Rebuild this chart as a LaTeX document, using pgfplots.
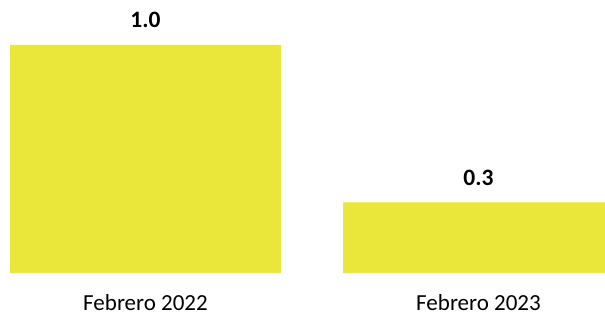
\documentclass[border=0pt]{standalone}
\usepackage{pgfplots}
\pgfplotsset{compat=1.18}
\usepackage{fontspec}
\setmainfont{Carlito}
\definecolor{baryellow}{RGB}{234,230,58}
\begin{document}
\begin{tikzpicture}
\begin{axis}[
 scale only axis, width=605bp, height=273bp,
 xmin=-0.43694, xmax=1.37988, ymin=0, ymax=1.19737,
 ybar, bar width=271bp,
 axis line style={draw=none}, major tick length=0pt, ytick=\empty,
 xtick={0,1}, xticklabels={Febrero 2022, Febrero 2023},
 xticklabel style={anchor=base, yshift=-37bp, inner sep=0pt, font=\fontsize{23bp}{28bp}\selectfont, text=black},
 point meta=explicit symbolic,
 nodes near coords={\textbf{\pgfplotspointmeta}},
 every node near coord/.append style={anchor=base, yshift=17bp, inner sep=0pt, font=\fontsize{23.5bp}{28bp}\selectfont, text=black},
]
\addplot[fill=baryellow, draw=none] coordinates {(0,1.0) [1.0] (1,0.31) [0.3]};
\end{axis}
\pgfresetboundingbox
\path[use as bounding box] (current axis.south west) ++(0,-42bp) rectangle (current axis.north east);
\end{tikzpicture}
\end{document}
